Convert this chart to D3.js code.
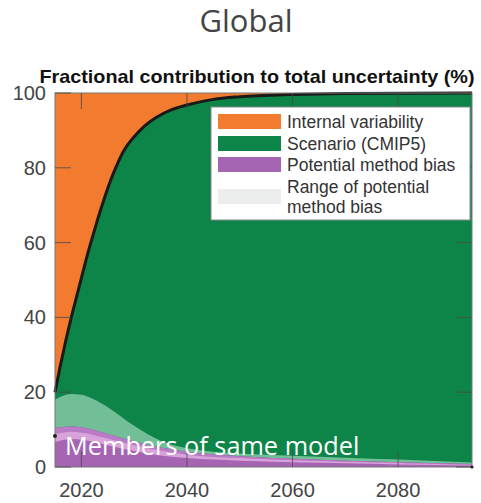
<!DOCTYPE html>
<html>
<head>
<meta charset="utf-8">
<script src="https://cdn.jsdelivr.net/npm/d3@7"></script>
<style>
  body { margin: 0; background: #fff; }
  svg { display: block; }
</style>
</head>
<body>
<div id="chart"></div>
<script>
// top of the scenario (green) area, i.e. boundary with internal variability
const sceneYears = [2015, 2016, 2017, 2018, 2019, 2020, 2021, 2022, 2023, 2024, 2025, 2026, 2027, 2028, 2030, 2032, 2034, 2037, 2040, 2045, 2050, 2060, 2070, 2094];
const sceneTop = [20, 27, 33.5, 39.5, 45, 50.5, 56, 61, 65.8, 70.3, 74.5, 78.3, 81.6, 84.5, 88.3, 91.2, 93.3, 95.5, 96.8, 98.3, 99, 99.6, 99.85, 100];

// method bias and its range
const biasYears = [2015, 2018, 2020, 2022, 2025, 2030, 2035, 2040, 2050, 2060, 2070, 2080, 2094];
const rangeHigh = [18, 19.5, 19.3, 18.3, 16, 11, 7, 5, 3.6, 3, 2.5, 2, 1.2];
const biasTop = [10.4, 10.8, 10.6, 10, 8.8, 6.8, 5.2, 4.1, 2.9, 2.2, 1.7, 1.3, 0.8];
const bandMid = [8.8, 9.4, 9.2, 8.7, 7.6, 5.8, 4.4, 3.3, 2.4, 1.8, 1.4, 1.1, 0.6];
const rangeLow = [6.7, 7.4, 7.3, 6.8, 5.8, 4.3, 3.1, 2.4, 1.7, 1.3, 1.0, 0.7, 0.4];

const xTicks = [2020, 2040, 2060, 2080];
const yTicks = [0, 20, 40, 60, 80, 100];

const legendItems = [
  { label: ["Internal variability"], color: "#f27b2f" },
  { label: ["Scenario (CMIP5)"], color: "#0e8548" },
  { label: ["Potential method bias"], color: "#a565b2" },
  { label: ["Range of potential", "method bias"], color: "#ebeeec" }
];

const colors = {
  orange: "#f27b2f",
  green: "#0e8548",
  lightGreen: "#72bf97",
  purple: "#a565b2",
  midPurple: "#b97bc5",
  pink: "#d9a2da"
};

const width = 481, height = 503;
const margin = { top: 93, right: 9, bottom: 36, left: 55 };

const svg = d3.select("#chart").append("svg")
  .attr("width", width)
  .attr("height", height);

const x = d3.scaleLinear().domain([2015, 2094]).range([margin.left, width - margin.right]);
const y = d3.scaleLinear().domain([0, 100]).range([height - margin.bottom, margin.top]);

const sceneData = sceneYears.map((yr, i) => ({ yr, v: sceneTop[i] }));
const biasData = biasYears.map((yr, i) => ({
  yr, hi: rangeHigh[i], top: biasTop[i], mid: bandMid[i], lo: rangeLow[i]
}));

const curve = d3.curveMonotoneX;

// internal variability fills everything above the scenario line
svg.append("path")
  .datum(sceneData)
  .attr("fill", colors.orange)
  .attr("d", d3.area().curve(curve).x(d => x(d.yr)).y0(y(100)).y1(d => y(d.v)));

svg.append("path")
  .datum(sceneData)
  .attr("fill", colors.green)
  .attr("d", d3.area().curve(curve).x(d => x(d.yr)).y0(y(0)).y1(d => y(d.v)));

// range above the bias (over green)
svg.append("path")
  .datum(biasData)
  .attr("fill", colors.lightGreen)
  .attr("d", d3.area().curve(curve).x(d => x(d.yr)).y0(d => y(d.top)).y1(d => y(d.hi)));

svg.append("path")
  .datum(biasData)
  .attr("fill", colors.purple)
  .attr("d", d3.area().curve(curve).x(d => x(d.yr)).y0(y(0)).y1(d => y(d.top)));

svg.append("path")
  .datum(biasData)
  .attr("fill", colors.midPurple)
  .attr("d", d3.area().curve(curve).x(d => x(d.yr)).y0(d => y(d.mid)).y1(d => y(d.top)));

svg.append("path")
  .datum(biasData)
  .attr("fill", colors.pink)
  .attr("d", d3.area().curve(curve).x(d => x(d.yr)).y0(d => y(d.lo)).y1(d => y(d.mid)));

// black boundary line
svg.append("path")
  .datum(sceneData)
  .attr("fill", "none")
  .attr("stroke", "#1a1a1a")
  .attr("stroke-width", 3)
  .attr("d", d3.line().curve(curve).x(d => x(d.yr)).y(d => y(d.v)));

// frame
svg.append("rect")
  .attr("x", x(2015)).attr("y", y(100))
  .attr("width", x(2094) - x(2015)).attr("height", y(0) - y(100))
  .attr("fill", "none").attr("stroke", "#777").attr("stroke-width", 1);

// inward ticks on all four sides
const tickLen = 16;
const ticks = svg.append("g").attr("stroke", "#4a4a4a").attr("stroke-opacity", 0.8).attr("stroke-width", 1);
xTicks.forEach(t => {
  ticks.append("line").attr("x1", x(t)).attr("x2", x(t)).attr("y1", y(0)).attr("y2", y(0) - tickLen);
  ticks.append("line").attr("x1", x(t)).attr("x2", x(t)).attr("y1", y(100)).attr("y2", y(100) + tickLen);
});
yTicks.forEach(t => {
  ticks.append("line").attr("x1", x(2015)).attr("x2", x(2015) + tickLen).attr("y1", y(t)).attr("y2", y(t));
  ticks.append("line").attr("x1", x(2094)).attr("x2", x(2094) - tickLen).attr("y1", y(t)).attr("y2", y(t));
});

// small end markers
svg.append("circle").attr("cx", x(2015)).attr("cy", y(8.3)).attr("r", 2).attr("fill", "#222");
svg.append("circle").attr("cx", x(2094)).attr("cy", y(0)).attr("r", 1.6).attr("fill", "#222");

// tick labels
svg.append("g")
  .style("font", "20px 'Liberation Sans', Arial, sans-serif")
  .attr("fill", "#444")
  .selectAll("text")
  .data(xTicks)
  .join("text")
  .attr("x", d => x(d))
  .attr("y", 497)
  .attr("text-anchor", "middle")
  .text(d => d);

svg.append("g")
  .style("font", "20px 'Liberation Sans', Arial, sans-serif")
  .attr("fill", "#444")
  .selectAll("text")
  .data(yTicks)
  .join("text")
  .attr("x", 46)
  .attr("y", d => y(d))
  .attr("dy", "0.35em")
  .attr("text-anchor", "end")
  .text(d => d);

// legend
const lg = svg.append("g");
lg.append("rect")
  .attr("x", 211).attr("y", 107).attr("width", 259).attr("height", 113)
  .attr("fill", "#fff").attr("stroke", "#888").attr("stroke-width", 1);

const rowY = [114, 136, 157, 189];
legendItems.forEach((d, i) => {
  lg.append("rect")
    .attr("x", 218).attr("y", rowY[i]).attr("width", 63).attr("height", 15)
    .attr("fill", d.color);
  d.label.forEach((line, j) => {
    lg.append("text")
      .attr("x", 287)
      .attr("y", (i < 3 ? rowY[i] + 14 : rowY[i] + 4) + j * 20)
      .style("font", "17.5px 'Liberation Sans', Arial, sans-serif")
      .attr("fill", "#333")
      .text(line);
  });
});

// titles
svg.append("text")
  .attr("x", 246).attr("y", 32)
  .attr("text-anchor", "middle")
  .style("font", "31px 'Open Sans', sans-serif")
  .attr("fill", "#444")
  .text("Global");

svg.append("text")
  .attr("x", 257).attr("y", 83)
  .attr("text-anchor", "middle")
  .attr("textLength", 435)
  .attr("lengthAdjust", "spacingAndGlyphs")
  .style("font", "bold 19px 'Liberation Sans', Arial, sans-serif")
  .attr("fill", "#111")
  .text("Fractional contribution to total uncertainty (%)");

svg.append("text")
  .attr("x", 65).attr("y", 455)
  .style("font", "25.3px 'Open Sans', sans-serif")
  .attr("fill", "#fff")
  .text("Members of same model");
</script>
</body>
</html>
